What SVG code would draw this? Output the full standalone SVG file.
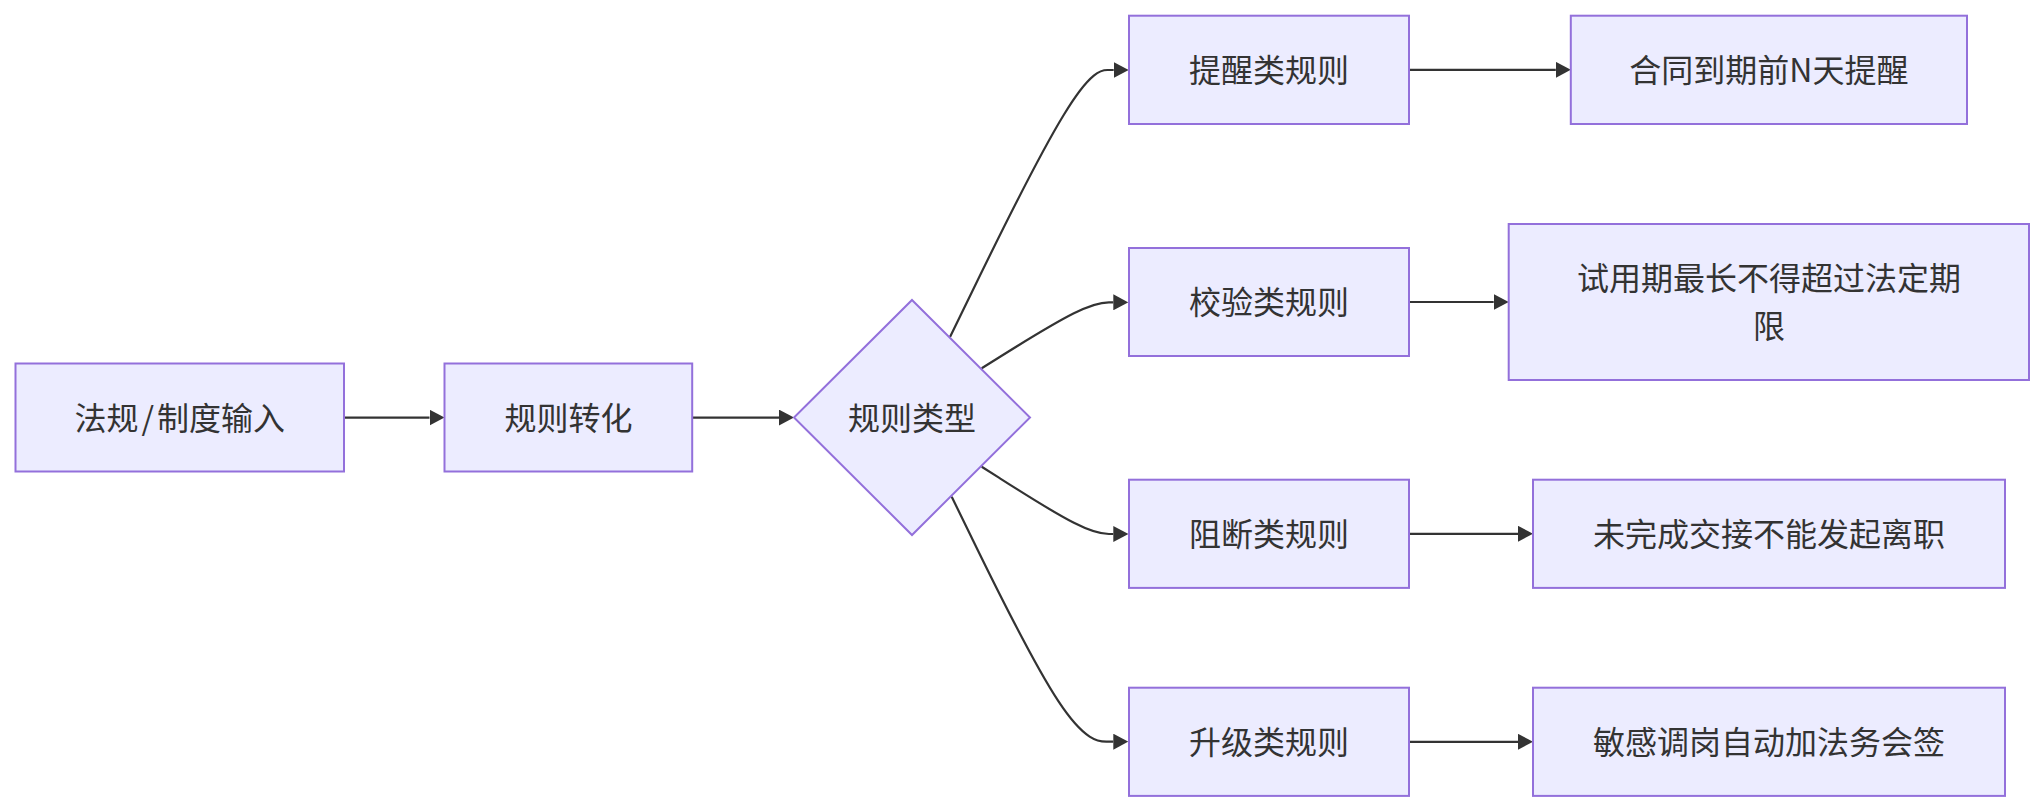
<svg xmlns="http://www.w3.org/2000/svg" width="2044" height="812" viewBox="0 0 2044 812">
  <style>
    .node rect, .node polygon { fill: #ECECFF; stroke: #9370DB; stroke-width: 2; }
    .node text { font-family: "Noto Sans CJK SC", "Liberation Sans", sans-serif; font-size: 32px; fill: #333333; text-anchor: middle; }
    .edge { fill: none; stroke: #333333; stroke-width: 2.2; marker-end: url(#arrow); }
  </style>
  <defs>
    <marker id="arrow" markerUnits="userSpaceOnUse" viewBox="0 0 15 16" markerWidth="15" markerHeight="16" refX="0" refY="8" orient="auto">
      <path d="M0,0 L15,8 L0,16 z" fill="#333333"/>
    </marker>
  </defs>
  <rect width="2044" height="812" fill="#ffffff"/>

  <g id="connectors">
    <path class="edge" d="M344,417.6 L429.5,417.6"/>
    <path class="edge" d="M692.2,417.6 L779,417.6"/>
    <!-- diamond to rule boxes (basis curves) -->
    <path class="edge" d="M950,337 L971.7,292.5 C993.3,248 1036.7,159 1064,114.5 C1091,70 1102,70 1107.5,70 L1113.7,70"/>
    <path class="edge" d="M981.7,368.3 L999.3,357.3 C1016.8,346.3 1051.9,324.3 1073.9,313.3 C1095.8,302.3 1104.5,302.3 1108.9,302.3 L1113.3,302.3"/>
    <path class="edge" d="M981.7,466.7 L999.3,477.9 C1016.8,489.1 1051.9,511.6 1073.9,522.8 C1095.8,534 1104.5,534 1108.9,534 L1113.3,534"/>
    <path class="edge" d="M951.7,496.7 L971.6,537.5 C991.5,578.3 1031.2,660.1 1058.2,700.9 C1085,741.7 1099.2,741.7 1106.3,741.7 L1113.3,741.7"/>
    <!-- rule boxes to results -->
    <path class="edge" d="M1409,69.8 L1555.8,69.8"/>
    <path class="edge" d="M1409,302 L1493.7,302"/>
    <path class="edge" d="M1409,533.8 L1518,533.8"/>
    <path class="edge" d="M1409,741.8 L1518,741.8"/>
  </g>

  <g id="input" class="node">
    <rect x="15.5" y="363.5" width="328.5" height="108"/>
    <text x="179.8" y="429.6">法规<tspan dx="3">/</tspan><tspan dx="3">制度输入</tspan></text>
  </g>
  <g id="convert" class="node">
    <rect x="444.5" y="363.5" width="247.7" height="108"/>
    <text x="568.4" y="429.6">规则转化</text>
  </g>
  <g id="ruletype" class="node">
    <polygon points="912,300 1030,417.5 912,535 794,417.5"/>
    <text x="912" y="429.5">规则类型</text>
  </g>

  <g id="remind" class="node">
    <rect x="1129" y="15.7" width="280" height="108.3"/>
    <text x="1269" y="81.8">提醒类规则</text>
  </g>
  <g id="check" class="node">
    <rect x="1129" y="248" width="280" height="108"/>
    <text x="1269" y="314">校验类规则</text>
  </g>
  <g id="block" class="node">
    <rect x="1129" y="479.7" width="280" height="108.2"/>
    <text x="1269" y="545.8">阻断类规则</text>
  </g>
  <g id="escalate" class="node">
    <rect x="1129" y="687.7" width="280" height="108.2"/>
    <text x="1269" y="753.8">升级类规则</text>
  </g>

  <g id="remind-result" class="node">
    <rect x="1570.8" y="15.7" width="396.2" height="108.3"/>
    <text x="1768.9" y="81.8">合同到期前N天提醒</text>
  </g>
  <g id="check-result" class="node">
    <rect x="1508.7" y="224" width="520.3" height="156"/>
    <text x="1768.9" y="290">试用期最长不得超过法定期</text>
    <text x="1768.9" y="338">限</text>
  </g>
  <g id="block-result" class="node">
    <rect x="1533" y="479.7" width="472" height="108.2"/>
    <text x="1769" y="545.8">未完成交接不能发起离职</text>
  </g>
  <g id="escalate-result" class="node">
    <rect x="1533" y="687.7" width="472" height="108.2"/>
    <text x="1769" y="753.8">敏感调岗自动加法务会签</text>
  </g>
</svg>
